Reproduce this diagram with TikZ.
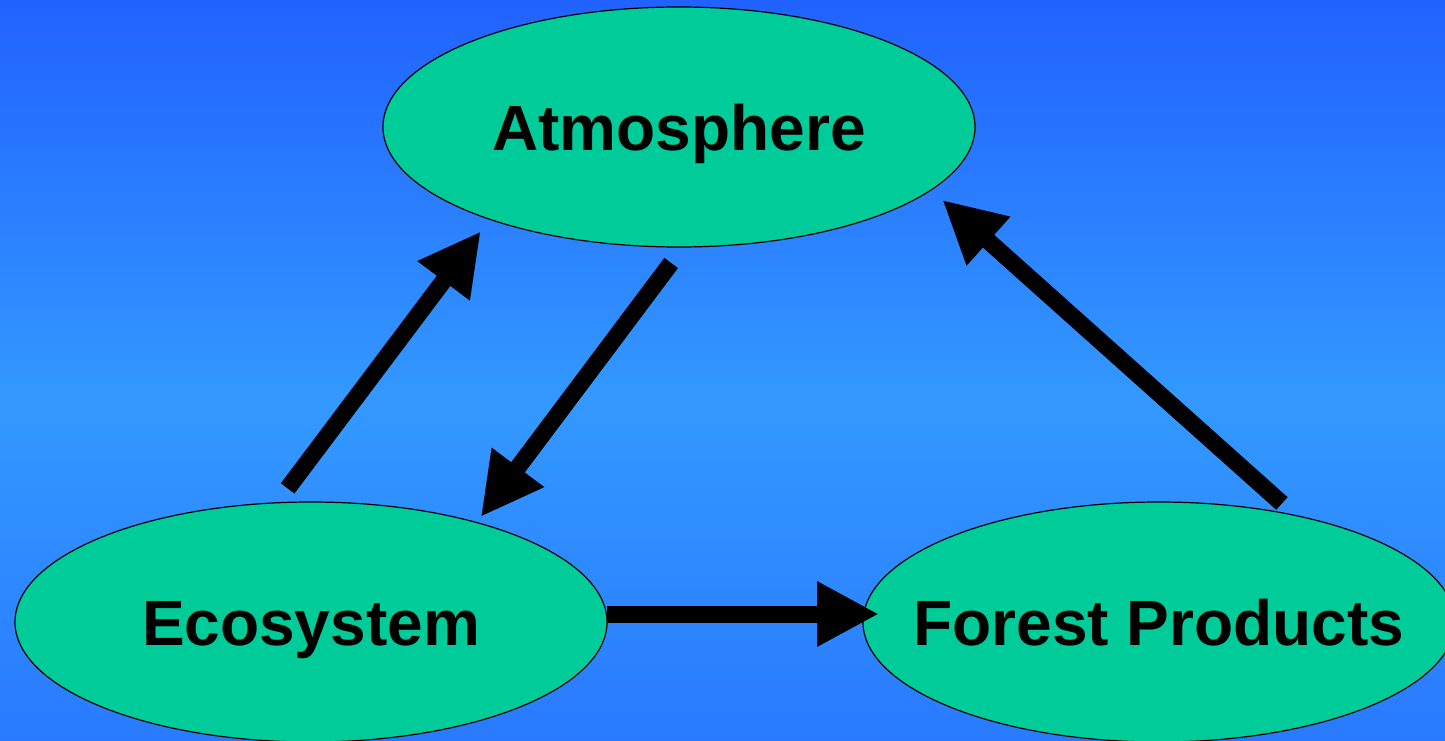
\documentclass[tikz,border=0pt]{standalone}
\usepackage{fontspec}
\setmainfont{Liberation Sans}
\usetikzlibrary{shapes.geometric}
\usetikzlibrary{arrows.meta}
\definecolor{skytop}{RGB}{33,98,255}
\definecolor{skymid}{RGB}{51,153,255}
\definecolor{skybot}{RGB}{41,122,255}
\definecolor{leaf}{RGB}{0,204,153}
\pgfdeclareverticalshading{sky}{100bp}{color(0bp)=(skybot); color(25bp)=(skybot); color(48bp)=(skymid); color(75bp)=(skytop); color(100bp)=(skytop)}

\begin{document}
\begin{tikzpicture}[x=1pt, y=-1pt, >={Triangle[length=62pt,width=61pt]},
blob/.style={ellipse, draw, line width=1.2pt, fill=leaf, minimum width=592pt, minimum height=240pt, inner xsep=-60pt, inner ysep=0pt, outer sep=0pt, font=\fontsize{64}{70}\selectfont\bfseries, text height=46pt, text depth=0pt},
flow/.style={->, line width=17pt}]
% background
\useasboundingbox (0,0) rectangle (1445,741);
\shade[shading=sky] (0,0) rectangle (1445,741);

% ellipses
\node [blob] (atmo) at (679,127) {Atmosphere};
\node [blob] (eco) at (311,622) {Ecosystem};
\node [blob] (forest) at (1159,622) {Forest Products};

% arrows
\draw [flow, shorten <=18pt, shorten >=15pt] (eco.106) -- (atmo.206);
\draw [flow, shorten <=20pt, shorten >=7pt] (atmo.272) -- (eco.31);
\draw [flow, shorten >=-16pt] ([yshift=8pt]eco.east) -- ([yshift=8pt]forest.west);
\draw [flow, shorten <=18pt, shorten >=15pt] (forest.38) -- (atmo.346);
\end{tikzpicture}
\end{document}
